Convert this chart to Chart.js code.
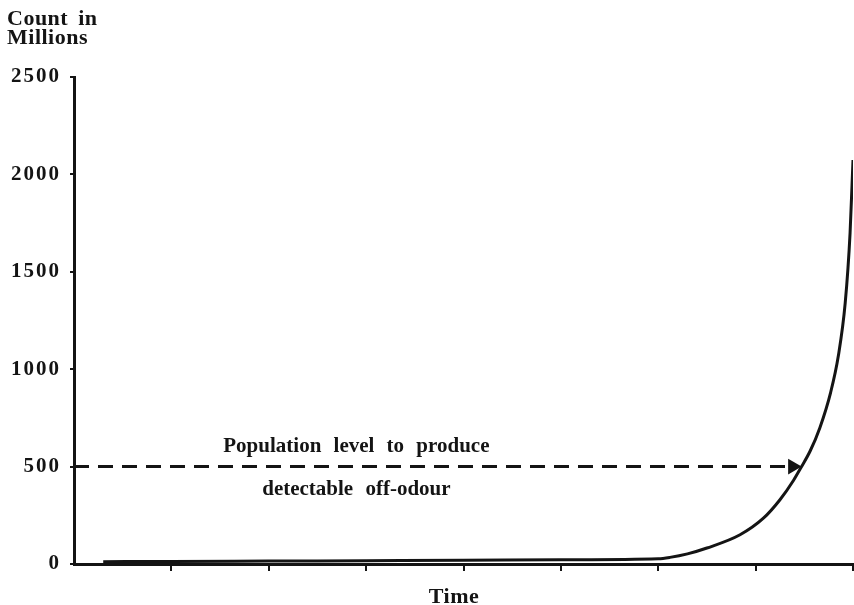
<!DOCTYPE html>
<html>
<head>
<meta charset="utf-8">
<script src="https://cdn.jsdelivr.net/npm/chart.js@4"></script>
<style>
  html, body { margin: 0; padding: 0; background: #fff; overflow: hidden; }
  #wrap { width: 854px; height: 605px; }
  canvas { display: block; }
</style>
</head>
<body>
<div id="wrap"><canvas id="growthChart" width="854" height="605"></canvas></div>
<script>
// curve (time units, count in millions)
const times = [0.3, 1, 2, 3, 4, 5, 6, 6.12, 6.3, 6.5, 6.84, 7.08, 7.25, 7.39, 7.46, 7.56, 7.66, 7.77, 7.85, 7.92, 7.97, 8.0];
const counts = [12, 13, 15, 17, 19, 22, 27, 34, 52, 82, 150, 235, 330, 430, 490, 580, 700, 880, 1070, 1340, 1700, 2074];

// off-odour threshold arrow
const thresholdLevel = 500;
const thresholdTimes = [0, 7.38];

const yTicks = [0, 500, 1000, 1500, 2000, 2500];
const xTicks = [0, 1, 2, 3, 4, 5, 6, 7, 8];

const ink = '#141414';
const serif = '"Liberation Serif", "Times New Roman", serif';

const textPlugin = {
    id: 'texts',
    afterDraw(chart) {
        const ctx = chart.ctx;
        const x = chart.scales.x;
        const y = chart.scales.y;
        ctx.save();
        ctx.fillStyle = ink;
        ctx.textBaseline = 'alphabetic';

        ctx.font = 'bold 22px ' + serif;
        ctx.letterSpacing = '0.5px';
        ctx.wordSpacing = '4px';
        ctx.textAlign = 'left';
        ctx.fillText('Count in', 7, 25);
        ctx.fillText('Millions', 7, 44);

        ctx.textAlign = 'center';
        ctx.fillText('Time', 454, 603);

        ctx.font = 'bold 21px ' + serif;
        ctx.letterSpacing = '0px';
        ctx.wordSpacing = '7px';
        const cx = x.getPixelForValue(2.9);
        const yl = y.getPixelForValue(thresholdLevel);
        ctx.fillText('Population level to produce', cx, yl - 15);
        ctx.fillText('detectable off-odour', cx, yl + 28);
        ctx.restore();
    }
};

const spacingPlugin = {
    id: 'tickSpacing',
    beforeDraw(chart) { chart.ctx.letterSpacing = '2px'; },
    afterDatasetsDraw(chart) { chart.ctx.letterSpacing = '0px'; }
};

const data = {
    datasets: [{
        label: 'Count',
        data: times.map((t, i) => ({ x: t, y: counts[i] })),
        borderColor: ink,
        borderWidth: 3,
        pointRadius: 0,
        cubicInterpolationMode: 'monotone',
        fill: false
    }, {
        label: 'Threshold',
        data: thresholdTimes.map(t => ({ x: t, y: thresholdLevel })),
        borderColor: ink,
        borderWidth: 3,
        borderDash: [15, 9],
        pointStyle: 'triangle',
        rotation: 90,
        pointRadius: [0, 9],
        pointBorderWidth: 0,
        pointBackgroundColor: ink,
        fill: false
    }]
};

const config = {
    type: 'line',
    data: data,
    plugins: [spacingPlugin, textPlugin],
    options: {
        responsive: false,
        animation: false,
        layout: { autoPadding: false, padding: { top: 77, right: 1, left: 0, bottom: 0 } },
        plugins: { legend: { display: false }, tooltip: { enabled: false } },
        scales: {
            x: {
                type: 'linear',
                min: 0,
                max: 8,
                afterBuildTicks: s => { s.ticks = xTicks.map(v => ({ value: v })); },
                afterFit: s => { s.height = 41; s.paddingLeft = 0; s.paddingRight = 0; },
                ticks: { callback: () => '', padding: 0 },
                grid: {
                    drawOnChartArea: false,
                    tickLength: 7,
                    lineWidth: 2,
                    color: c => (c.tick && c.tick.value === 0 ? 'rgba(0,0,0,0)' : ink)
                },
                border: { color: ink, width: 3 }
            },
            y: {
                min: 0,
                max: 2500,
                afterBuildTicks: s => { s.ticks = yTicks.map(v => ({ value: v })); },
                afterFit: s => { s.width = 74; },
                ticks: {
                    color: ink,
                    padding: 9,
                    callback: v => String(v),
                    font: { family: serif, size: 21, weight: 'bold' }
                },
                grid: { drawOnChartArea: false, tickLength: 4, lineWidth: 2, color: ink },
                border: { color: ink, width: 3 }
            }
        }
    }
};
// eslint-disable-next-line
const growthChart = new Chart(document.getElementById('growthChart'), config);
</script>
</body>
</html>
